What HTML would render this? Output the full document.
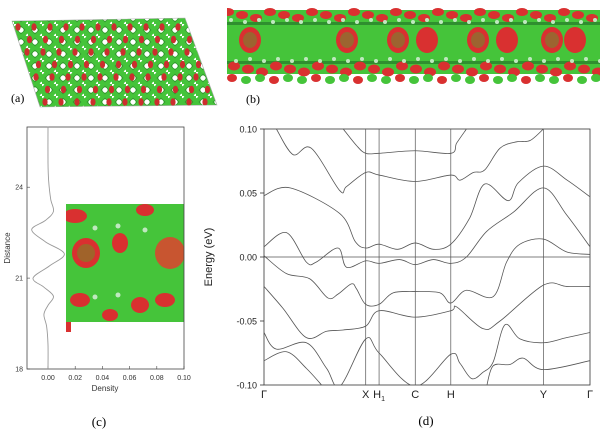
<!DOCTYPE html>
<html><head><meta charset="utf-8">
<style>
body{margin:0;background:#fff;width:600px;height:431px;overflow:hidden;font-family:"Liberation Sans",sans-serif}
svg{display:block}
</style></head>
<body>
<svg id="fig" width="600" height="431" viewBox="0 0 600 431" xmlns="http://www.w3.org/2000/svg">
<defs>
<clipPath id="clipD"><rect x="264" y="129" width="326" height="256"/></clipPath>
<clipPath id="clipA"><polygon points="12,21 185,18 217,105 40,107"/></clipPath>
<clipPath id="clipB"><rect x="227" y="4" width="373" height="82"/></clipPath>
<clipPath id="clipC"><rect x="66" y="204" width="118" height="118"/></clipPath>
<pattern id="hex" width="14" height="12" patternUnits="userSpaceOnUse">
<rect width="14" height="12" fill="#45c43a"/>
<circle cx="7" cy="6" r="2.6" fill="#fff"/>
<circle cx="0" cy="0" r="2.2" fill="#fff"/>
<circle cx="14" cy="12" r="2.2" fill="#fff"/>
<path d="M3,6 L7,2 L11,6 L7,10 Z" fill="none" stroke="#2e8a2e" stroke-width="0.6"/>
</pattern>
</defs>

<!-- panel a -->
<g>
<polygon points="12,21 185,18 217,105 40,107" fill="url(#hex)" stroke="#aaa" stroke-width="0.6"/>
<g clip-path="url(#clipA)" id="aBlobs"></g>
</g>
<text x="11" y="102" font-family="Liberation Serif,serif" font-size="12">(a)</text>

<!-- panel b -->
<g clip-path="url(#clipB)">
<rect x="227" y="10" width="373" height="64" fill="#45c43a"/>
<rect x="227" y="22" width="373" height="3" fill="#2f8f2f"/>
<rect x="227" y="61" width="373" height="3" fill="#2f8f2f"/>
<g id="bBlobs"></g>
</g>
<text x="246" y="103" font-family="Liberation Serif,serif" font-size="12">(b)</text>

<!-- panel c -->
<g>
<g clip-path="url(#clipC)">
<rect x="66" y="204" width="118" height="118" fill="#45c43a"/>
<g id="cBlobs"></g>
</g>
<rect x="27" y="127" width="157" height="242" fill="none" stroke="#444" stroke-width="0.8"/>
<g id="cAxes" font-size="7" fill="#333"></g>
<path id="densCurve" fill="none" stroke="#999" stroke-width="0.9"/>
<text x="105" y="391" font-size="8" text-anchor="middle" fill="#333">Density</text>
<text transform="translate(10,248) rotate(-90)" font-size="8" text-anchor="middle" fill="#333">Distance</text>
</g>
<text x="99" y="426" font-family="Liberation Serif,serif" font-size="13" text-anchor="middle">(c)</text>

<!-- panel d -->
<g>
<rect x="264" y="129" width="326" height="256" fill="none" stroke="#333" stroke-width="0.8"/>
<g id="dAxes" fill="#222"></g>
<g id="dBands" clip-path="url(#clipD)"></g>
<text transform="translate(212,257) rotate(-90)" font-size="11" text-anchor="middle" fill="#222">Energy (eV)</text>
</g>
<text x="426" y="425" font-family="Liberation Serif,serif" font-size="13" text-anchor="middle">(d)</text>
</svg>
<script>
// ---- panel d data ----
const symLabels = ["Γ","X","H1","C","H","Y","Γ"];
const symK = [0,0.312,0.353,0.464,0.573,0.857,1];
const eTicks = [0.10,0.05,0.00,-0.05,-0.10];
const band1K=[0.038,0.089,0.145,0.232,0.253,0.312,0.353,0.464,0.573,0.601,0.642,0.677,0.724,0.775,0.816,0.857];
const band1E=[0.100,0.080,0.085,0.052,0.055,0.066,0.064,0.059,0.064,0.060,0.066,0.068,0.085,0.090,0.091,0.100];
const band2K=[0.243,0.284,0.312,0.353,0.464,0.573,0.591,0.621];
const band2E=[0.100,0.087,0.081,0.081,0.083,0.081,0.089,0.100];
const band3K=[0,0.08,0.232,0.28,0.312,0.353,0.41,0.464,0.52,0.573,0.63,0.677,0.749,0.78,0.857,0.93,1];
const band3E=[0.048,0.054,0.034,0.012,0.007,0.010,0.006,0.011,0.006,0.010,0.030,0.057,0.044,0.058,0.071,0.060,0.047];
const band4K=[0,0.069,0.13,0.16,0.227,0.253,0.312,0.353,0.416,0.464,0.519,0.573,0.621,0.683,0.765,0.857,0.928,1];
const band4E=[0.008,0.019,-0.004,-0.004,0.007,-0.008,-0.003,-0.005,-0.002,-0.006,-0.002,-0.005,0.000,0.020,0.035,0.054,0.033,0.008];
const band5K=[0,0.069,0.14,0.196,0.227,0.268,0.284,0.312,0.353,0.396,0.464,0.54,0.573,0.621,0.703,0.744,0.785,0.857,0.928,1];
const band5E=[0.001,-0.013,-0.017,-0.032,-0.029,-0.021,-0.025,-0.037,-0.037,-0.028,-0.027,-0.028,-0.036,-0.026,-0.031,-0.004,0.010,0.014,0.004,0.002];
const band6K=[0,0.058,0.13,0.192,0.243,0.312,0.353,0.464,0.573,0.591,0.672,0.724,0.857,0.928,1];
const band6E=[-0.023,-0.040,-0.063,-0.058,-0.057,-0.054,-0.042,-0.047,-0.042,-0.039,-0.056,-0.050,-0.022,-0.023,-0.023];
const band7K=[0,0.038,0.13,0.192,0.233,0.312,0.353,0.464,0.573,0.601,0.637,0.672,0.703,0.739,0.785,0.857,0.928,1];
const band7E=[-0.059,-0.072,-0.067,-0.087,-0.101,-0.064,-0.075,-0.101,-0.076,-0.083,-0.095,-0.090,-0.082,-0.053,-0.064,-0.067,-0.063,-0.059];
const band8K=[0,0.069,0.13,0.18];
const band8E=[-0.081,-0.074,-0.087,-0.101];
const band9K=[0.683,0.703,0.754,0.795,0.857,1];
const band9E=[-0.101,-0.085,-0.084,-0.079,-0.088,-0.081];
// ---- panel c data ----
const distTicks=[18,21,24];
const densTicks=[0.00,0.02,0.04,0.06,0.08,0.10];
const dist=[26,24.8,24.2,23.6,23.2,22.9,22.6,22.2,21.8,21.4,21.0,20.7,20.4,20.1,19.8,19.4,18.8,18];
const dens=[0,0,0.0005,0.002,0.004,-0.002,-0.012,-0.002,0.012,0.001,-0.011,-0.003,0.004,0.000,-0.003,-0.001,0,0];

const NS="http://www.w3.org/2000/svg";
function mk(tag,attrs,parent){const e=document.createElementNS(NS,tag);for(const k in attrs)e.setAttribute(k,attrs[k]);parent.appendChild(e);return e;}
function smooth(pts){let d="M"+pts[0][0]+","+pts[0][1];for(let i=0;i<pts.length-1;i++){const p0=pts[Math.max(0,i-1)],p1=pts[i],p2=pts[i+1],p3=pts[Math.min(pts.length-1,i+2)];const c1=[p1[0]+(p2[0]-p0[0])/6,p1[1]+(p2[1]-p0[1])/6],c2=[p2[0]-(p3[0]-p1[0])/6,p2[1]-(p3[1]-p1[1])/6];d+=" C"+c1[0]+","+c1[1]+" "+c2[0]+","+c2[1]+" "+p2[0]+","+p2[1];}return d;}

// axes d
const dx=k=>264+k*326, dy=e=>257-e*1280;
const dAx=document.getElementById('dAxes');
eTicks.forEach(t=>{
 const tk=mk('line',{x1:264,x2:260,y1:dy(t),y2:dy(t),stroke:'#333','stroke-width':0.8},dAx);
 
 
 const tx=mk('text',{x:257,y:dy(t)+3.5,'font-size':9,'text-anchor':'end'},dAx);tx.textContent=t.toFixed(2);
 
 
});
const zl=mk('line',{x1:264,x2:590,y1:dy(0),y2:dy(0),stroke:'#555','stroke-width':0.7},dAx);


symK.forEach((k,i)=>{
 if(i>0&&i<symK.length-1){const vl=mk('line',{x1:dx(k),x2:dx(k),y1:129,y2:385,stroke:'#555','stroke-width':0.7},dAx);
 
 }
 const lab=symLabels[i];
 const tx=mk('text',{x:dx(k),y:398,'font-size':11,'text-anchor':'middle'},dAx);
 if(lab==="H1"){tx.textContent="H";const s=mk('tspan',{'font-size':7,dy:3},tx);s.textContent="1";}
 else tx.textContent=lab;
 
 
});
const bands=[[band1K,band1E],[band2K,band2E],[band3K,band3E],[band4K,band4E],[band5K,band5E],[band6K,band6E],[band7K,band7E],[band8K,band8E],[band9K,band9E]];
const dB=document.getElementById('dBands');
bands.forEach(([K,E],i)=>{
 const p=mk('path',{d:smooth(K.map((k,j)=>[dx(k),dy(E[j])])),fill:'none',stroke:'#555','stroke-width':0.8},dB);
 
 
});

// panel c
const cx=v=>48+v*1360, cy=v=>369-(v-18)*30.3;
const cAx=document.getElementById('cAxes');
distTicks.forEach(t=>{
 const tx=mk('text',{x:23,y:cy(t)+2.5,'text-anchor':'end'},cAx);tx.textContent=t;
 
 
 mk('line',{x1:27,x2:30,y1:cy(t),y2:cy(t),stroke:'#444','stroke-width':0.6},cAx);
});
densTicks.forEach(t=>{
 const tx=mk('text',{x:cx(t),y:380,'text-anchor':'middle'},cAx);tx.textContent=t.toFixed(2);
 
 
 mk('line',{x1:cx(t),x2:cx(t),y1:369,y2:366,stroke:'#444','stroke-width':0.6},cAx);
});
document.getElementById('densCurve').setAttribute('d',smooth(dist.map((d,i)=>[cx(dens[i]),cy(d)])));

// decorative blobs (structures)
function blobs(id,spec){const g=document.getElementById(id);spec.forEach(s=>mk('ellipse',{cx:s[0],cy:s[1],rx:s[2],ry:s[3],fill:s[4]},g));}
const A=[];for(let r=0;r<7;r++)for(let c=0;c<12;c++){A.push([18+c*16+r*4.5+(r%2)*7,27+r*12.5,2.6,3.8,'#cc2e2e']);}
blobs('aBlobs',A);
const B=[];
[250,347,398,427,478,507,552,575].forEach((x,i)=>{B.push([x,40,11,13,'#d93030']);if(i%2===0||i===1)B.push([x,40,7,8,'#9c6430']);});
for(let i=0;i<27;i++){const x=228+i*14;B.push([x,12+(i%3)*3,6,4,'#d93030']);B.push([x+6,66+(i%3)*3,6,4.5,'#d93030']);B.push([x+4,78+(i%2)*2,5,4,i%3?'#45c43a':'#d93030']);B.push([x+3,20+(i%2)*2,2,2,'#bfe8bf']);B.push([x+8,61-(i%2)*2,2,2,'#bfe8bf']);}
blobs('bBlobs',B);
const C=[[86,253,14,15,'#d93030'],[86,253,9,9,'#a0632a'],[170,253,15,16,'#c85530'],[75,216,12,7,'#d93030'],[145,210,9,6,'#d93030'],[120,243,8,10,'#d93030'],[80,300,10,7,'#d93030'],[140,305,9,8,'#d93030'],[110,315,8,6,'#d93030'],[165,300,10,7,'#d93030'],[95,228,2.5,2.5,'#bfe8bf'],[118,226,2.5,2.5,'#bfe8bf'],[145,230,2.5,2.5,'#bfe8bf'],[95,297,2.5,2.5,'#bfe8bf'],[118,295,2.5,2.5,'#bfe8bf']];
blobs('cBlobs',C);
mk('rect',{x:66,y:322,width:5,height:10,fill:'#d93030'},document.getElementById('fig'));
</script>
</body></html>
